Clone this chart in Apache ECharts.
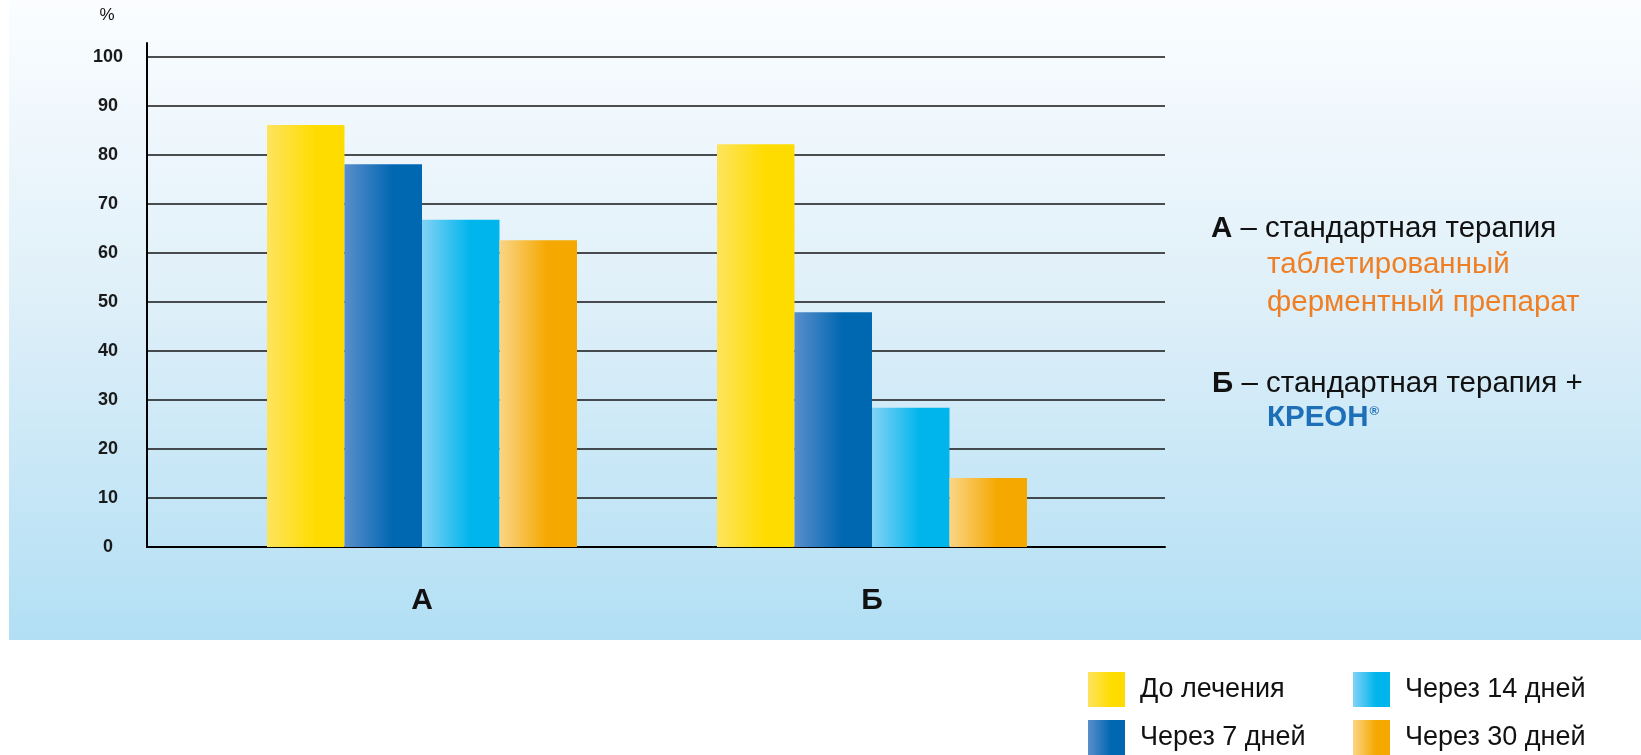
<!DOCTYPE html>
<html>
<head>
<meta charset="utf-8">
<script src="https://cdn.jsdelivr.net/npm/echarts@6/dist/echarts.min.js"></script>
<style>
  html, body { margin: 0; padding: 0; background: #ffffff; }
  #chart { width: 1641px; height: 755px; }
</style>
</head>
<body>
<div id="chart"></div>
<script>
// Groups and the four measurement points
const categories = ['А', 'Б'];
const seriesNames = ['До лечения', 'Через 7 дней', 'Через 14 дней', 'Через 30 дней'];

// Share of patients with symptoms, %
const beforeTreatment = [86.1, 82.2];
const after7Days = [78.1, 47.9];
const after14Days = [66.8, 28.4];
const after30Days = [62.6, 14.1];

// Value axis range
const yMin = 0;
const yMax = 100;
const yStep = 10;

const FONT = '"Liberation Sans", Arial, Helvetica, sans-serif';

function hGrad(light, full) {
  return new echarts.graphic.LinearGradient(0, 0, 1, 0, [
    { offset: 0, color: light },
    { offset: 0.62, color: full },
    { offset: 1, color: full }
  ]);
}

const palette = [
  hGrad('#fde45e', '#ffdc00'),
  hGrad('#5a8ecc', '#0067b1'),
  hGrad('#82d2f6', '#00b5ec'),
  hGrad('#fad586', '#f5a800')
];

const seriesData = [beforeTreatment, after7Days, after14Days, after30Days];

const chart = echarts.init(document.getElementById('chart'), null, { renderer: 'canvas' });

const gridTop = 57;
const gridBottom = 208;
const TEXT_SIZE = 29.5;

function noteLine(x, y, text, fill, rich) {
  return {
    type: 'text', x: x, y: y, z: 10,
    style: {
      text: text, fontSize: TEXT_SIZE, fontFamily: FONT, fill: fill,
      verticalAlign: 'middle', rich: rich || {}
    }
  };
}

const boldBlack = { b: { fontSize: TEXT_SIZE, fontWeight: 'bold', fontFamily: FONT, fill: '#111' } };

chart.setOption({
  animation: false,
  textStyle: { fontFamily: FONT },
  grid: [
    // gridlines and value labels
    { left: 147, top: gridTop, width: 1018, bottom: gridBottom },
    // bar placement
    { left: 197, top: gridTop, width: 900, bottom: gridBottom },
    // vertical axis line rising above the top gridline
    { left: 147, top: 43, width: 1018, bottom: gridBottom }
  ],
  xAxis: [
    {
      gridIndex: 0, type: 'value', min: 0, max: 1,
      axisLine: { show: true, onZero: false, lineStyle: { color: '#000', width: 2 } },
      axisTick: { show: false }, axisLabel: { show: false }, splitLine: { show: false }
    },
    {
      gridIndex: 1, type: 'category', data: categories,
      axisLine: { show: false }, axisTick: { show: false },
      axisLabel: {
        fontSize: 30, fontWeight: 'bold', color: '#111', fontFamily: FONT,
        margin: 54, verticalAlign: 'middle'
      }
    },
    { gridIndex: 2, type: 'value', min: 0, max: 1, show: false }
  ],
  yAxis: [
    {
      gridIndex: 0, type: 'value', min: yMin, max: yMax, interval: yStep,
      name: '%', nameLocation: 'end', nameGap: 33,
      nameTextStyle: { fontSize: 17, color: '#111', align: 'center', padding: [0, 80, 0, 0], fontFamily: FONT },
      axisLine: { show: false }, axisTick: { show: false },
      axisLabel: { fontSize: 18, fontWeight: 'bold', color: '#1a1a1a', align: 'center', margin: 39, fontFamily: FONT },
      splitLine: { show: true, lineStyle: { color: '#151515', width: 1.7 } }
    },
    { gridIndex: 1, type: 'value', min: yMin, max: yMax, show: false },
    {
      gridIndex: 2, type: 'value', min: 0, max: 1,
      axisLine: { show: true, lineStyle: { color: '#000', width: 2 } },
      axisTick: { show: false }, axisLabel: { show: false }, splitLine: { show: false }
    }
  ],
  legend: [
    {
      data: [seriesNames[0], seriesNames[1]],
      orient: 'vertical', left: 1088, top: 672, padding: 0,
      itemWidth: 37, itemHeight: 35, itemGap: 13, icon: 'rect', selectedMode: false,
      textStyle: { fontSize: 27, color: '#111', padding: [0, 0, 0, 10], fontFamily: FONT }
    },
    {
      data: [seriesNames[2], seriesNames[3]],
      orient: 'vertical', left: 1353, top: 672, padding: 0,
      itemWidth: 37, itemHeight: 35, itemGap: 13, icon: 'rect', selectedMode: false,
      textStyle: { fontSize: 27, color: '#111', padding: [0, 0, 0, 10], fontFamily: FONT }
    }
  ],
  graphic: [
    {
      type: 'rect', left: 9, top: 0, z: -10, silent: true,
      shape: { width: 1632, height: 640 },
      style: {
        fill: new echarts.graphic.LinearGradient(0, 0, 0, 1, [
          { offset: 0, color: '#fbfdff' },
          { offset: 0.45, color: '#e0f0f9' },
          { offset: 1, color: '#b2dff4' }
        ])
      }
    },
    noteLine(1211, 229, '{b|А} – стандартная терапия', '#111', boldBlack),
    noteLine(1267, 265, 'таблетированный', '#ef7f24'),
    noteLine(1267, 303, 'ферментный препарат', '#ef7f24'),
    noteLine(1212, 384, '{b|Б} – стандартная терапия +', '#111', boldBlack),
    noteLine(1267, 418, '{k|КРЕОН}{r|®}', '#1d6fb8', {
      k: { fontSize: TEXT_SIZE, fontWeight: 'bold', fontFamily: FONT, fill: '#1d6fb8' },
      r: { fontSize: 13, fontWeight: 'bold', fontFamily: FONT, fill: '#1d6fb8', padding: [0, 0, 14, 1] }
    })
  ],
  series: seriesNames.map((name, i) => ({
    name: name,
    type: 'bar',
    xAxisIndex: 1,
    yAxisIndex: 1,
    data: seriesData[i],
    barWidth: 77.5,
    barGap: '0%',
    itemStyle: { color: palette[i] },
    emphasis: { disabled: true }
  }))
});
</script>
</body>
</html>
